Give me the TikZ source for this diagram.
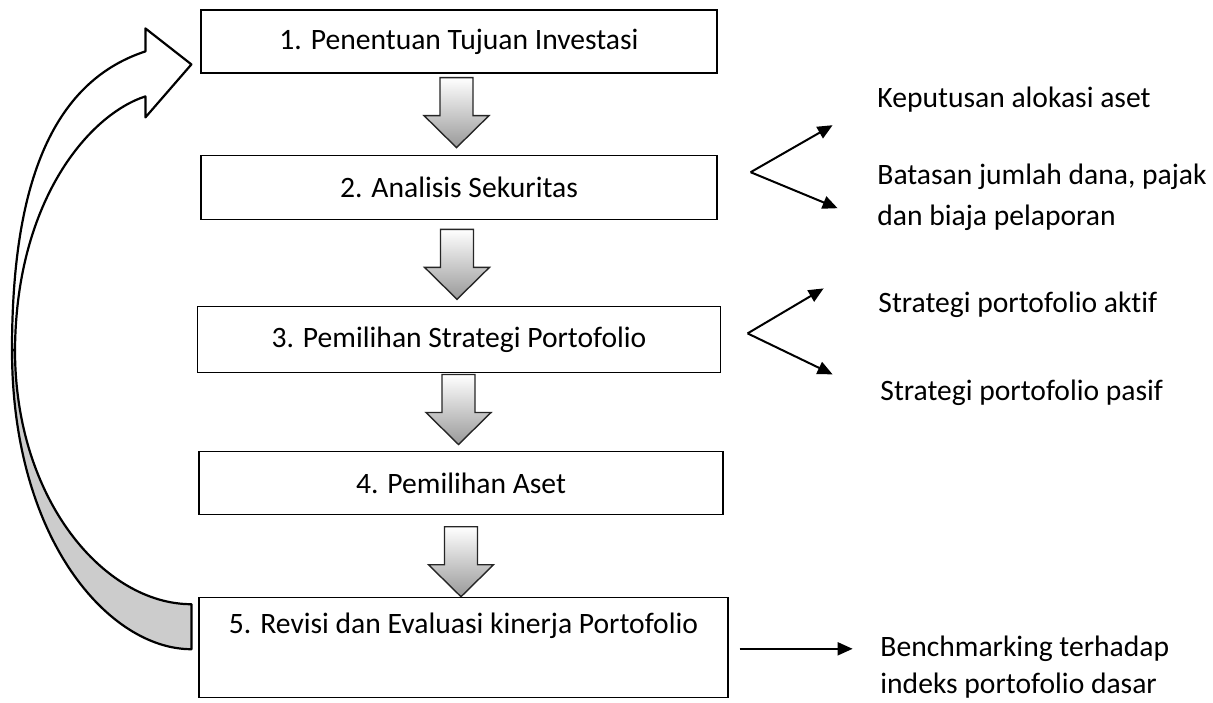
\documentclass[tikz,border=0pt]{standalone}
\usepackage{fontspec}
\setmainfont{Carlito}[Ligatures=NoCommon]
\usetikzlibrary{positioning,arrows.meta,calc}
\tikzset{
  box/.style={draw=black,line width=0.6pt,fill=white,align=center,
              minimum width=258pt,minimum height=31.5pt,inner sep=0pt},
  lbl/.style={anchor=base west,align=left,inner sep=0pt},
  arr/.style={-{Triangle[length=7.5pt,width=6.5pt]},line width=1pt,draw=black},
  backarr/.style={draw=black,line width=1.1pt,line join=round},
  blk/.pic={\shadedraw[draw=black!85,line width=0.7pt,top color=white,bottom color=black!40]
    (-16.5,-35) -- (16.5,-35) -- (16.5,3) -- (32.5,3) -- (0,35) -- (-32.5,3) -- (-16.5,3) -- cycle;}
}

\begin{document}
\begin{tikzpicture}[x=0.5pt,y=-0.5pt,font=\fontsize{14.8}{20.5}\selectfont]
  \useasboundingbox (0,0) rectangle (1213,702);

  % the five steps
  \node[box] (b1) at (459,41.5) {1. Penentuan Tujuan Investasi};
  \node[box,minimum height=32pt,below=40.5pt of b1] (b2) {2. Analisis Sekuritas};
  \node[box,minimum height=33pt,minimum width=261.5pt,below=43pt of b2] (b3) {3. Pemilihan Strategi Portofolio};
  \node[box,minimum width=262pt,below=39pt of b3,xshift=1pt] (b4) {4. Pemilihan Aset};
  \node[box,minimum width=264.5pt,text height=18pt,text depth=32pt,
        below=41pt of b4,xshift=1.25pt] (b5) {5. Revisi dan Evaluasi kinerja Portofolio};

  % block arrows between the steps
  \pic at ($(b1.south)!0.5!(b2.north)+(-2.5,-1.5)$) {blk};
  \pic at ($(b2.south)!0.5!(b3.north)+(-2,1.5)$) {blk};
  \pic at ($(b3.south)!0.5!(b4.north)+(-1.5,-2.5)$) {blk};
  \pic at ($(b4.south)!0.5!(b5.north)+(-1.25,5.5)$) {blk};

  % curved arrow back from step 5 to step 1
  \coordinate (tailT) at ($(b5.north west)+(-7,7)$);
  \coordinate (tailB) at ($(b5.north west)+(-7,52)$);
  \coordinate (tip) at ($(b1.north west)+(-9,55)$);
  \coordinate (bendO) at (12,350);
  \coordinate (bendI) at (15,350);
  \draw[backarr,fill=black!20] (bendO) .. controls +(0,190) and +(-82,0) .. (tailB)
    -- (tailT) .. controls +(-87,0) and +(0,150) .. (bendI) -- cycle;
  \draw[backarr,fill=white] (bendO) .. controls +(0,-150) and +(-101,33) .. ($(tip)+(-46,-13)$)
    -- ++(0,-23) -- (tip) -- ($(tip)+(-46,53)$) -- ++(0,-21)
    .. controls +(-56,18) and +(1,-150) .. (bendI) -- cycle;

  % branches on the right
  \coordinate (f2) at ($(b2.east)+(33,-15)$);
  \coordinate (f2a) at ($(f2)+(82,-47)$);
  \coordinate (f2b) at ($(f2)+(87,36)$);
  \coordinate (f3) at ($(b3.east)+(26.5,-6)$);
  \coordinate (f3a) at ($(f3)+(76,-45)$);
  \coordinate (f3b) at ($(f3)+(85,41)$);
  \coordinate (e5) at ($(b5.east)+(11,1)$);
  \coordinate (e5a) at ($(e5)+(113,0)$);
  \draw[arr] (f2) -- (f2a);
  \draw[arr] (f2) -- (f2b);
  \draw[arr] (f3) -- (f3a);
  \draw[arr] (f3) -- (f3b);
  \draw[arr] (e5) -- (e5a);

  \node[lbl] (alok) at (877,107) {Keputusan alokasi aset};
  \node[lbl] (batas) at (877,225) {Batasan jumlah dana, pajak\\dan biaja pelaporan};
  \node[lbl] (aktif) at (878,312) {Strategi portofolio aktif};
  \node[lbl] (pasif) at (880,400) {Strategi portofolio pasif};
  \node[lbl,font=\fontsize{14.8}{18.5}\selectfont] (bench) at (880,693) {Benchmarking terhadap\\indeks portofolio dasar};
\end{tikzpicture}
\end{document}
